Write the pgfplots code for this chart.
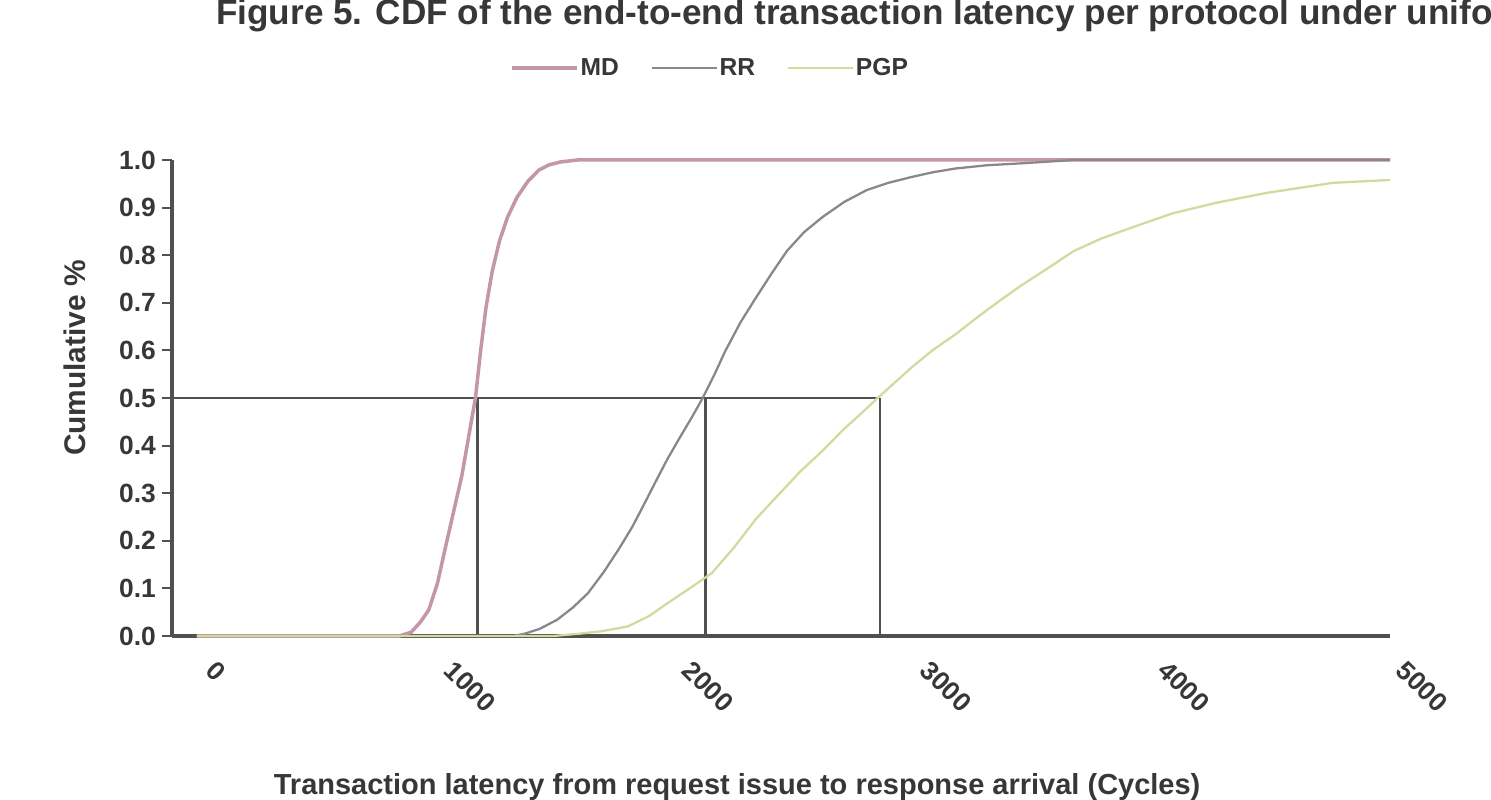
\documentclass[border=0pt]{standalone}
\usepackage{fontspec}
\setmainfont{Liberation Sans}
\usepackage{pgfplots}
\pgfplotsset{compat=1.18}

\definecolor{mdc}{RGB}{196,150,170}
\definecolor{rrc}{RGB}{138,134,140}
\definecolor{pgpc}{RGB}{212,218,158}
\definecolor{medc}{RGB}{80,80,80}
\definecolor{txt}{RGB}{55,55,55}

\begin{document}
\begin{tikzpicture}
\begin{axis}[
    scale only axis,
    width=24.36cm, height=9.52cm,
    xmin=-105, xmax=5013, ymin=0, ymax=1,
    clip=false,
    axis x line=bottom, axis y line=left,
    axis line style={-, draw=medc, line width=2pt},
    xtick={0,1000,2000,3000,4000,5000},
    xticklabels={0,1000,2000,3000,4000,5000},
    ytick={0,0.1,0.2,0.3,0.4,0.5,0.6,0.7,0.8,0.9,1.0},
    yticklabel style={/pgf/number format/.cd, fixed, fixed zerofill, precision=1},
    /pgf/number format/assume math mode=true,
    tick label style={font=\bfseries\fontsize{15}{18}\selectfont, text=txt},
    xticklabel style={inner sep=0pt, xshift=0.42cm, yshift=-0.25cm, rotate=-45, anchor=north west},
    tick align=outside,
    major tick length=0.2cm,
    ytick style={draw=medc, line width=1.2pt},
    xtick style={draw=none},
    title={Figure 5. CDF of the end-to-end transaction latency per protocol under uniform random traffic},
    title style={at={(axis description cs:0.0312,1.262)}, anchor=base west, font=\bfseries\fontsize{20}{24}\selectfont, text=txt},
    xlabel={Transaction latency from request issue to response arrival (Cycles)},
    xlabel style={at={(axis description cs:0.464,-0.318)}, anchor=center, font=\bfseries\fontsize{16.5}{19}\selectfont, text=txt},
    ylabel={Cumulative \%},
    ylabel style={at={(axis description cs:-0.0796,0.584)}, anchor=center, font=\bfseries\fontsize{17}{20}\selectfont, text=txt},
    legend columns=3,
    legend style={draw=none, fill=none, at={(axis description cs:0.4417,1.193)}, anchor=center,
        font=\bfseries\fontsize{14}{17}\selectfont, text=txt,
        nodes={inner sep=1pt},
        /tikz/every even column/.append style={column sep=0.6cm}},
    legend image code/.code={\draw[#1] (0cm,0cm) -- (1.3cm,0cm);},
]
% median guide lines
\addplot[medc, line width=1.6pt, forget plot] coordinates {(-105,0.5) (2870,0.5)};
\addplot[medc, line width=1.6pt, forget plot] coordinates {(1180,0) (1180,0.5)};
\addplot[medc, line width=1.6pt, forget plot] coordinates {(2135,0) (2135,0.5)};
\addplot[medc, line width=1.6pt, forget plot] coordinates {(2870,0) (2870,0.5)};

% MD
\addplot[mdc, line width=2pt] coordinates {
(0,0) (850,0) (900,0.008) (940,0.03) (974,0.055) (1010,0.11) (1048,0.195)
(1080,0.265) (1113,0.337) (1142,0.42) (1170,0.5) (1192,0.6) (1214,0.689)
(1240,0.765) (1271,0.83) (1305,0.88) (1345,0.922) (1390,0.955) (1437,0.979)
(1480,0.99) (1529,0.996) (1600,1) (5013,1)
};
\addlegendentry{MD}

% RR
\addplot[rrc, line width=1.3pt] coordinates {
(0,0) (1330,0) (1378,0.005) (1440,0.015) (1513,0.034) (1580,0.06) (1643,0.09)
(1710,0.135) (1773,0.183) (1830,0.23) (1884,0.282) (1930,0.327) (1977,0.372)
(2030,0.418) (2080,0.46) (2125,0.5) (2175,0.55) (2218,0.597) (2285,0.66)
(2349,0.711) (2415,0.762) (2479,0.809) (2550,0.848) (2628,0.88) (2720,0.912)
(2815,0.937) (2905,0.952) (3000,0.964) (3090,0.974) (3185,0.982) (3320,0.989)
(3465,0.993) (3685,1.0) (5013,1)
};
\addlegendentry{RR}

% PGP
\addplot[pgpc, line width=1.3pt] coordinates {
(0,0) (1500,0) (1609,0.005) (1700,0.01) (1810,0.02) (1900,0.042) (1977,0.069)
(2070,0.1) (2163,0.132) (2255,0.185) (2349,0.246) (2440,0.295) (2534,0.345)
(2630,0.39) (2721,0.436) (2790,0.467) (2860,0.5) (3000,0.563) (3090,0.6)
(3185,0.633) (3280,0.67) (3372,0.704) (3465,0.737) (3558,0.767) (3685,0.809)
(3800,0.835) (3933,0.859) (4100,0.888) (4282,0.91) (4496,0.931) (4773,0.952)
(5013,0.958)
};
\addlegendentry{PGP}

\coordinate (bbsw) at (axis description cs:-0.14122,-0.34454);
\coordinate (bbne) at (axis description cs:1.08292,1.33613);
\end{axis}
\pgfresetboundingbox
\path[use as bounding box] (bbsw) rectangle (bbne);
\end{tikzpicture}
\end{document}
